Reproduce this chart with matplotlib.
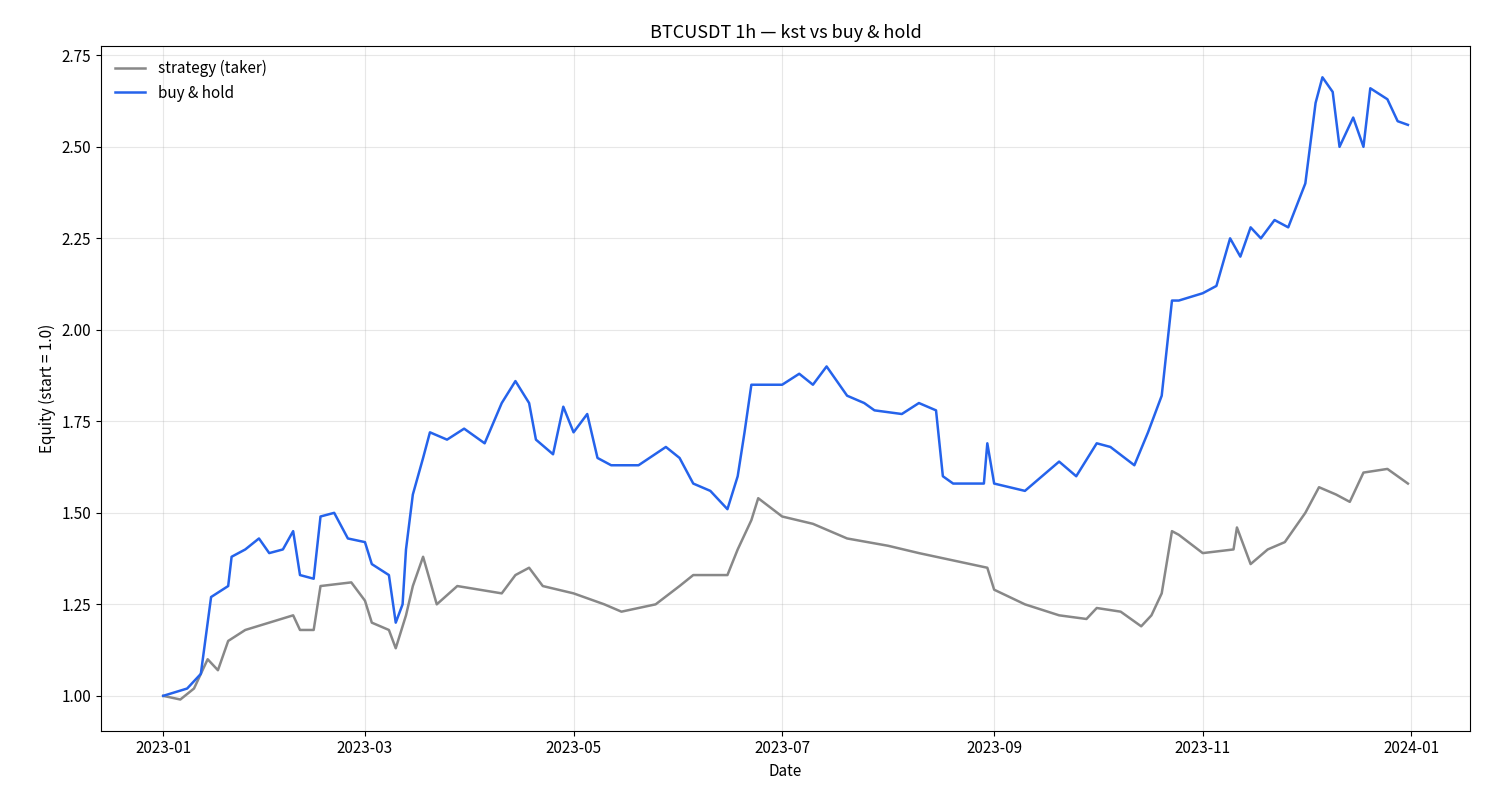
import matplotlib
matplotlib.use("Agg")
import matplotlib.pyplot as plt
import matplotlib.dates as mdates
import pandas as pd

plt.rcParams['font.family'] = ['Noto Sans CJK KR', 'DejaVu Sans']

bh_dates = ["2023-01-01","2023-01-08","2023-01-12","2023-01-14","2023-01-15","2023-01-20","2023-01-21","2023-01-25","2023-01-29",
"2023-02-01","2023-02-05","2023-02-08","2023-02-10","2023-02-14","2023-02-16","2023-02-20","2023-02-24","2023-03-01","2023-03-03",
"2023-03-08","2023-03-10","2023-03-12","2023-03-13","2023-03-15","2023-03-18","2023-03-20","2023-03-25","2023-03-30","2023-04-05",
"2023-04-10","2023-04-14","2023-04-18","2023-04-20","2023-04-25","2023-04-28","2023-05-01","2023-05-05","2023-05-08","2023-05-12",
"2023-05-20","2023-05-28","2023-06-01","2023-06-05","2023-06-10","2023-06-15","2023-06-18","2023-06-20","2023-06-22","2023-06-25",
"2023-07-01","2023-07-06","2023-07-10","2023-07-14","2023-07-20","2023-07-25","2023-07-28","2023-08-05","2023-08-10","2023-08-15",
"2023-08-17","2023-08-20","2023-08-29","2023-08-30","2023-09-01","2023-09-10","2023-09-15","2023-09-20","2023-09-25","2023-10-01",
"2023-10-05","2023-10-12","2023-10-16","2023-10-20","2023-10-23","2023-10-25","2023-11-01","2023-11-05","2023-11-09","2023-11-12",
"2023-11-15","2023-11-18","2023-11-22","2023-11-26","2023-12-01","2023-12-04","2023-12-06","2023-12-09","2023-12-11","2023-12-15",
"2023-12-18","2023-12-20","2023-12-25","2023-12-28","2023-12-31"]
bh_values = [1.00,1.02,1.06,1.20,1.27,1.30,1.38,1.40,1.43,
1.39,1.40,1.45,1.33,1.32,1.49,1.50,1.43,1.42,1.36,
1.33,1.20,1.25,1.40,1.55,1.65,1.72,1.70,1.73,1.69,
1.80,1.86,1.80,1.70,1.66,1.79,1.72,1.77,1.65,1.63,
1.63,1.68,1.65,1.58,1.56,1.51,1.60,1.72,1.85,1.85,
1.85,1.88,1.85,1.90,1.82,1.80,1.78,1.77,1.80,1.78,
1.60,1.58,1.58,1.69,1.58,1.56,1.60,1.64,1.60,1.69,
1.68,1.63,1.72,1.82,2.08,2.08,2.10,2.12,2.25,2.20,
2.28,2.25,2.30,2.28,2.40,2.62,2.69,2.65,2.50,2.58,
2.50,2.66,2.63,2.57,2.56]

st_dates = ["2023-01-01","2023-01-06","2023-01-10","2023-01-14","2023-01-17","2023-01-20","2023-01-25","2023-02-01","2023-02-08",
"2023-02-10","2023-02-14","2023-02-16","2023-02-25","2023-03-01","2023-03-03","2023-03-08","2023-03-10","2023-03-13","2023-03-15",
"2023-03-18","2023-03-22","2023-03-28","2023-04-10","2023-04-14","2023-04-18","2023-04-22","2023-05-01","2023-05-10","2023-05-15",
"2023-05-25","2023-06-01","2023-06-05","2023-06-12","2023-06-15","2023-06-18","2023-06-22","2023-06-24","2023-07-01","2023-07-10",
"2023-07-20","2023-08-01","2023-08-10","2023-08-20","2023-08-30","2023-09-01","2023-09-10","2023-09-20","2023-09-28","2023-10-01",
"2023-10-08","2023-10-14","2023-10-17","2023-10-20","2023-10-23","2023-10-25","2023-11-01","2023-11-10","2023-11-11","2023-11-15",
"2023-11-20","2023-11-25","2023-12-01","2023-12-05","2023-12-10","2023-12-14","2023-12-18","2023-12-25","2023-12-31"]
st_values = [1.00,0.99,1.02,1.10,1.07,1.15,1.18,1.20,1.22,
1.18,1.18,1.30,1.31,1.26,1.20,1.18,1.13,1.22,1.30,
1.38,1.25,1.30,1.28,1.33,1.35,1.30,1.28,1.25,1.23,
1.25,1.30,1.33,1.33,1.33,1.40,1.48,1.54,1.49,1.47,
1.43,1.41,1.39,1.37,1.35,1.29,1.25,1.22,1.21,1.24,
1.23,1.19,1.22,1.28,1.45,1.44,1.39,1.40,1.46,1.36,
1.40,1.42,1.50,1.57,1.55,1.53,1.61,1.62,1.58]

fig, ax = plt.subplots(figsize=(14.85, 8.1), dpi=100)
ax.plot(pd.to_datetime(st_dates), st_values, color='#888888', lw=1.8, label='strategy (taker)')
ax.plot(pd.to_datetime(bh_dates), bh_values, color='#2563eb', lw=1.8, label='buy & hold')
ax.set_title('BTCUSDT 1h — kst vs buy & hold', fontsize=13)
ax.set_xlabel('Date', fontsize=11)
ax.set_ylabel('Equity (start = 1.0)', fontsize=11)
ax.xaxis.set_major_locator(mdates.MonthLocator(bymonth=[1,3,5,7,9,11]))
ax.xaxis.set_major_formatter(mdates.DateFormatter('%Y-%m'))
ax.tick_params(labelsize=11)
ax.grid(True, alpha=0.3)
ax.legend(loc='upper left', frameon=False, fontsize=11)
fig.subplots_adjust(left=0.068, right=0.99, top=0.943, bottom=0.098)
fig.savefig('out.png')
